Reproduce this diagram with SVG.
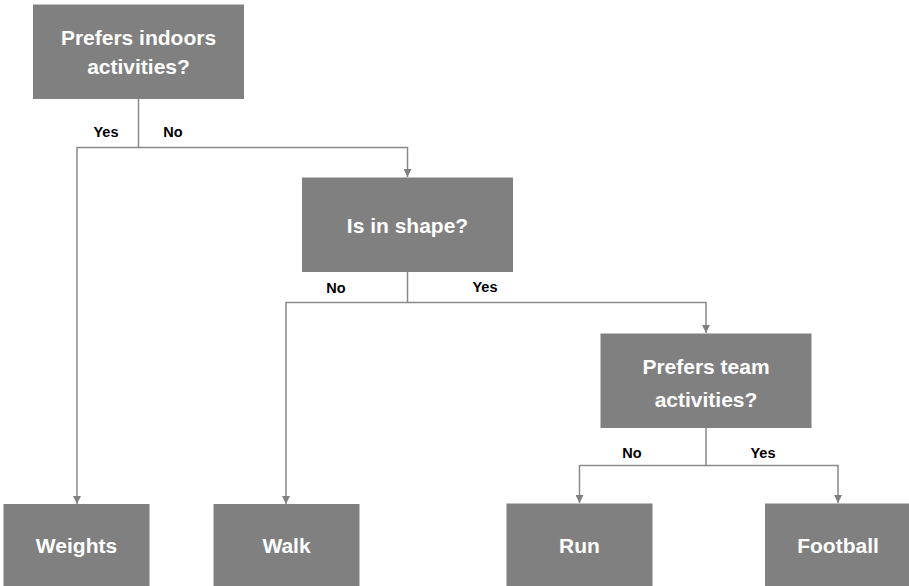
<svg xmlns="http://www.w3.org/2000/svg" width="909" height="586" viewBox="0 0 909 586">
<style>
.box{fill:#808080;}
.t{font-family:"Liberation Sans",Arial,sans-serif;font-weight:bold;font-size:21px;fill:#ffffff;text-anchor:middle;}
.l{font-family:"Liberation Sans",Arial,sans-serif;font-weight:bold;font-size:14.5px;fill:#000000;text-anchor:middle;}
.c{fill:none;stroke:#8a8a8a;stroke-width:1.5;}
</style>
<defs>
<marker id="arr" markerWidth="8" markerHeight="8" refX="8" refY="4" orient="auto" markerUnits="userSpaceOnUse">
<path d="M0,0 L8,4 L0,8 Z" fill="#808080"/>
</marker>
</defs>
<rect width="909" height="586" fill="#ffffff"/>
<g id="connectors">
<path class="c" d="M138.5,99 V147.5 H77 V504" marker-end="url(#arr)"/>
<path class="c" d="M138.5,147.5 H407.5 V177" marker-end="url(#arr)"/>
<path class="c" d="M407.5,272 V302.5 H286 V504" marker-end="url(#arr)"/>
<path class="c" d="M407.5,302.5 H706 V333" marker-end="url(#arr)"/>
<path class="c" d="M706,428 V465.5 H579.5 V503" marker-end="url(#arr)"/>
<path class="c" d="M706,465.5 H838 V503" marker-end="url(#arr)"/>
<text class="l" x="106" y="136.5">Yes</text>
<text class="l" x="173" y="136.5">No</text>
<text class="l" x="336" y="293">No</text>
<text class="l" x="485" y="291.5">Yes</text>
<text class="l" x="632" y="458">No</text>
<text class="l" x="763" y="458">Yes</text>
</g>
<g id="n1">
<rect class="box" x="33" y="4.5" width="211" height="94.5"/>
<text class="t" x="138.5" y="45">Prefers indoors</text>
<text class="t" x="138.5" y="74">activities?</text>
</g>
<g id="n2">
<rect class="box" x="302" y="177.5" width="211" height="94.5"/>
<text class="t" x="407.5" y="233">Is in shape?</text>
</g>
<g id="n3">
<rect class="box" x="600.5" y="333.5" width="211" height="94.5"/>
<text class="t" x="706" y="374">Prefers team</text>
<text class="t" x="706" y="407">activities?</text>
</g>
<g id="n4">
<rect class="box" x="3.5" y="504" width="146" height="90"/>
<text class="t" x="76.5" y="553">Weights</text>
</g>
<g id="n5">
<rect class="box" x="213.5" y="504" width="146" height="90"/>
<text class="t" x="286.5" y="553">Walk</text>
</g>
<g id="n6">
<rect class="box" x="506.5" y="503.5" width="146" height="90"/>
<text class="t" x="579.5" y="553">Run</text>
</g>
<g id="n7">
<rect class="box" x="765" y="503.5" width="146" height="90"/>
<text class="t" x="838" y="553">Football</text>
</g>
</svg>
